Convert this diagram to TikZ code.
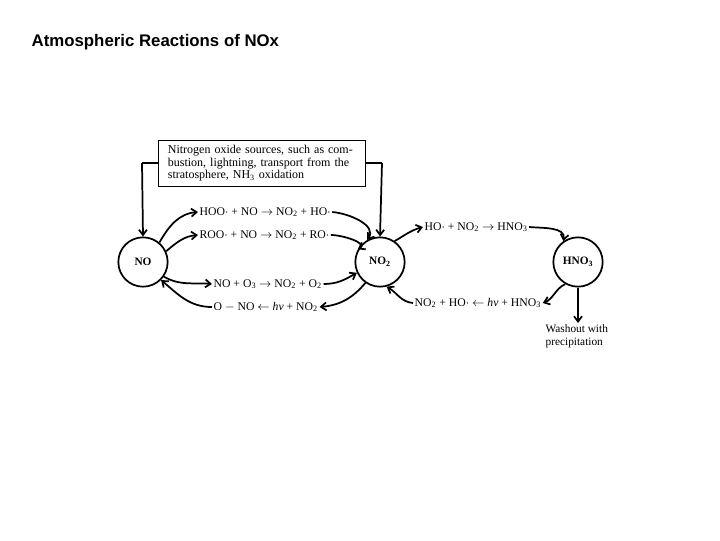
\documentclass[tikz,border=0pt]{standalone}
\usepackage{fontspec}
\setmainfont{Liberation Serif}
\newfontfamily\arialf{Liberation Sans}
\usetikzlibrary{arrows.meta}
\newcommand{\sbs}[1]{\textsubscript{#1}}
\begin{document}
\begin{tikzpicture}[x=0.75pt,y=-0.75pt,
  spc/.style={circle,draw,line width=1.3pt,minimum size=37pt,inner sep=0pt,font=\fontsize{8.5}{9}\selectfont\bfseries},
  lab/.style={inner sep=1pt,font=\fontsize{8.8}{9}\selectfont},
  arr/.style={line width=1.3pt,-{Straight Barb[length=4pt,width=6pt]}}]
\useasboundingbox (0,0) rectangle (720,540);
\node[anchor=west,font=\arialf\bfseries\fontsize{12.6}{14}\selectfont] (title) at (27,42) {Atmospheric Reactions of NOx};
\node[spc] (no) at (143,262) {NO};
\node[spc] (no2) at (380,262) {NO\sbs{2}};
\node[spc] (hno3) at (578,262) {HNO\sbs{3}};
\node[draw,line width=0.8pt,align=left,text width=141pt,minimum height=34.5pt,inner sep=1pt,inner xsep=7pt,font=\fontsize{9}{9.4}\selectfont,anchor=north west] (src) at (158,140)
 {Nitrogen oxide sources, such as com-\\bustion, lightning, transport from the\\stratosphere, NH\sbs{3} oxidation};
\coordinate (sl) at (142,163);
\coordinate (sr) at (382,163);
\draw[line width=0.8pt] (src.west|-sl) -- (sl);
\draw[line width=0.8pt] (src.east|-sr) -- (sr);
\draw[arr] (sl) -- (no.north);
\draw[arr] (sr) -- (no2.north);
\node[lab,anchor=west] (r1) at (198,212) {HOO$\cdot$ + NO $\rightarrow$ NO\sbs{2} + HO$\cdot$};
\node[lab,anchor=west] (r2) at (198,235) {ROO$\cdot$ + NO $\rightarrow$ NO\sbs{2} + RO$\cdot$};
\node[lab,anchor=west] (r3) at (212,284) {NO + O\sbs{3} $\rightarrow$ NO\sbs{2} + O\sbs{2}};
\node[lab,anchor=west] (r4) at (212,307) {O $-$ NO $\leftarrow$ \textit{hv} + NO\sbs{2}};
\node[lab,anchor=west] (r5) at (423,227) {HO$\cdot$ + NO\sbs{2} $\rightarrow$ HNO\sbs{3}};
\node[lab,anchor=west] (r6) at (413,303) {NO\sbs{2} + HO$\cdot$ $\leftarrow$ \textit{hv} + HNO\sbs{3}};
\node[lab,align=left,anchor=north west,font=\fontsize{8.5}{9.5}\selectfont] (wash) at (544,323) {Washout with\\precipitation};
\draw[arr] (no.50) to[out=60,in=185] (r1.west);
\draw[arr] (no.25) to[out=40,in=185] (r2.west);
\draw[arr] (r1.east) to[out=-5,in=55] (no2.120);
\draw[arr] (r2.east) to[out=0,in=30] (no2.150);
\draw[arr] (no.-35) to[out=-30,in=175] (r3.west);
\draw[arr] (r3.east) to[out=0,in=-150] (no2.-155);
\draw[arr] (no2.-125) to[out=-130,in=5] (r4.east);
\draw[arr] (r4.west) to[out=180,in=-40] (no.-45);
\draw[arr] (no2.55) to[out=30,in=195] (r5.west);
\draw[arr] (r5.east) to[out=-5,in=80] (hno3.125);
\draw[arr] (hno3.-120) to[out=-155,in=20] (r6.east);
\draw[arr] (r6.west) to[out=175,in=-30] (no2.-75);
\draw[arr] (hno3.south) -- (wash.north-|hno3.south);
\end{tikzpicture}
\end{document}
